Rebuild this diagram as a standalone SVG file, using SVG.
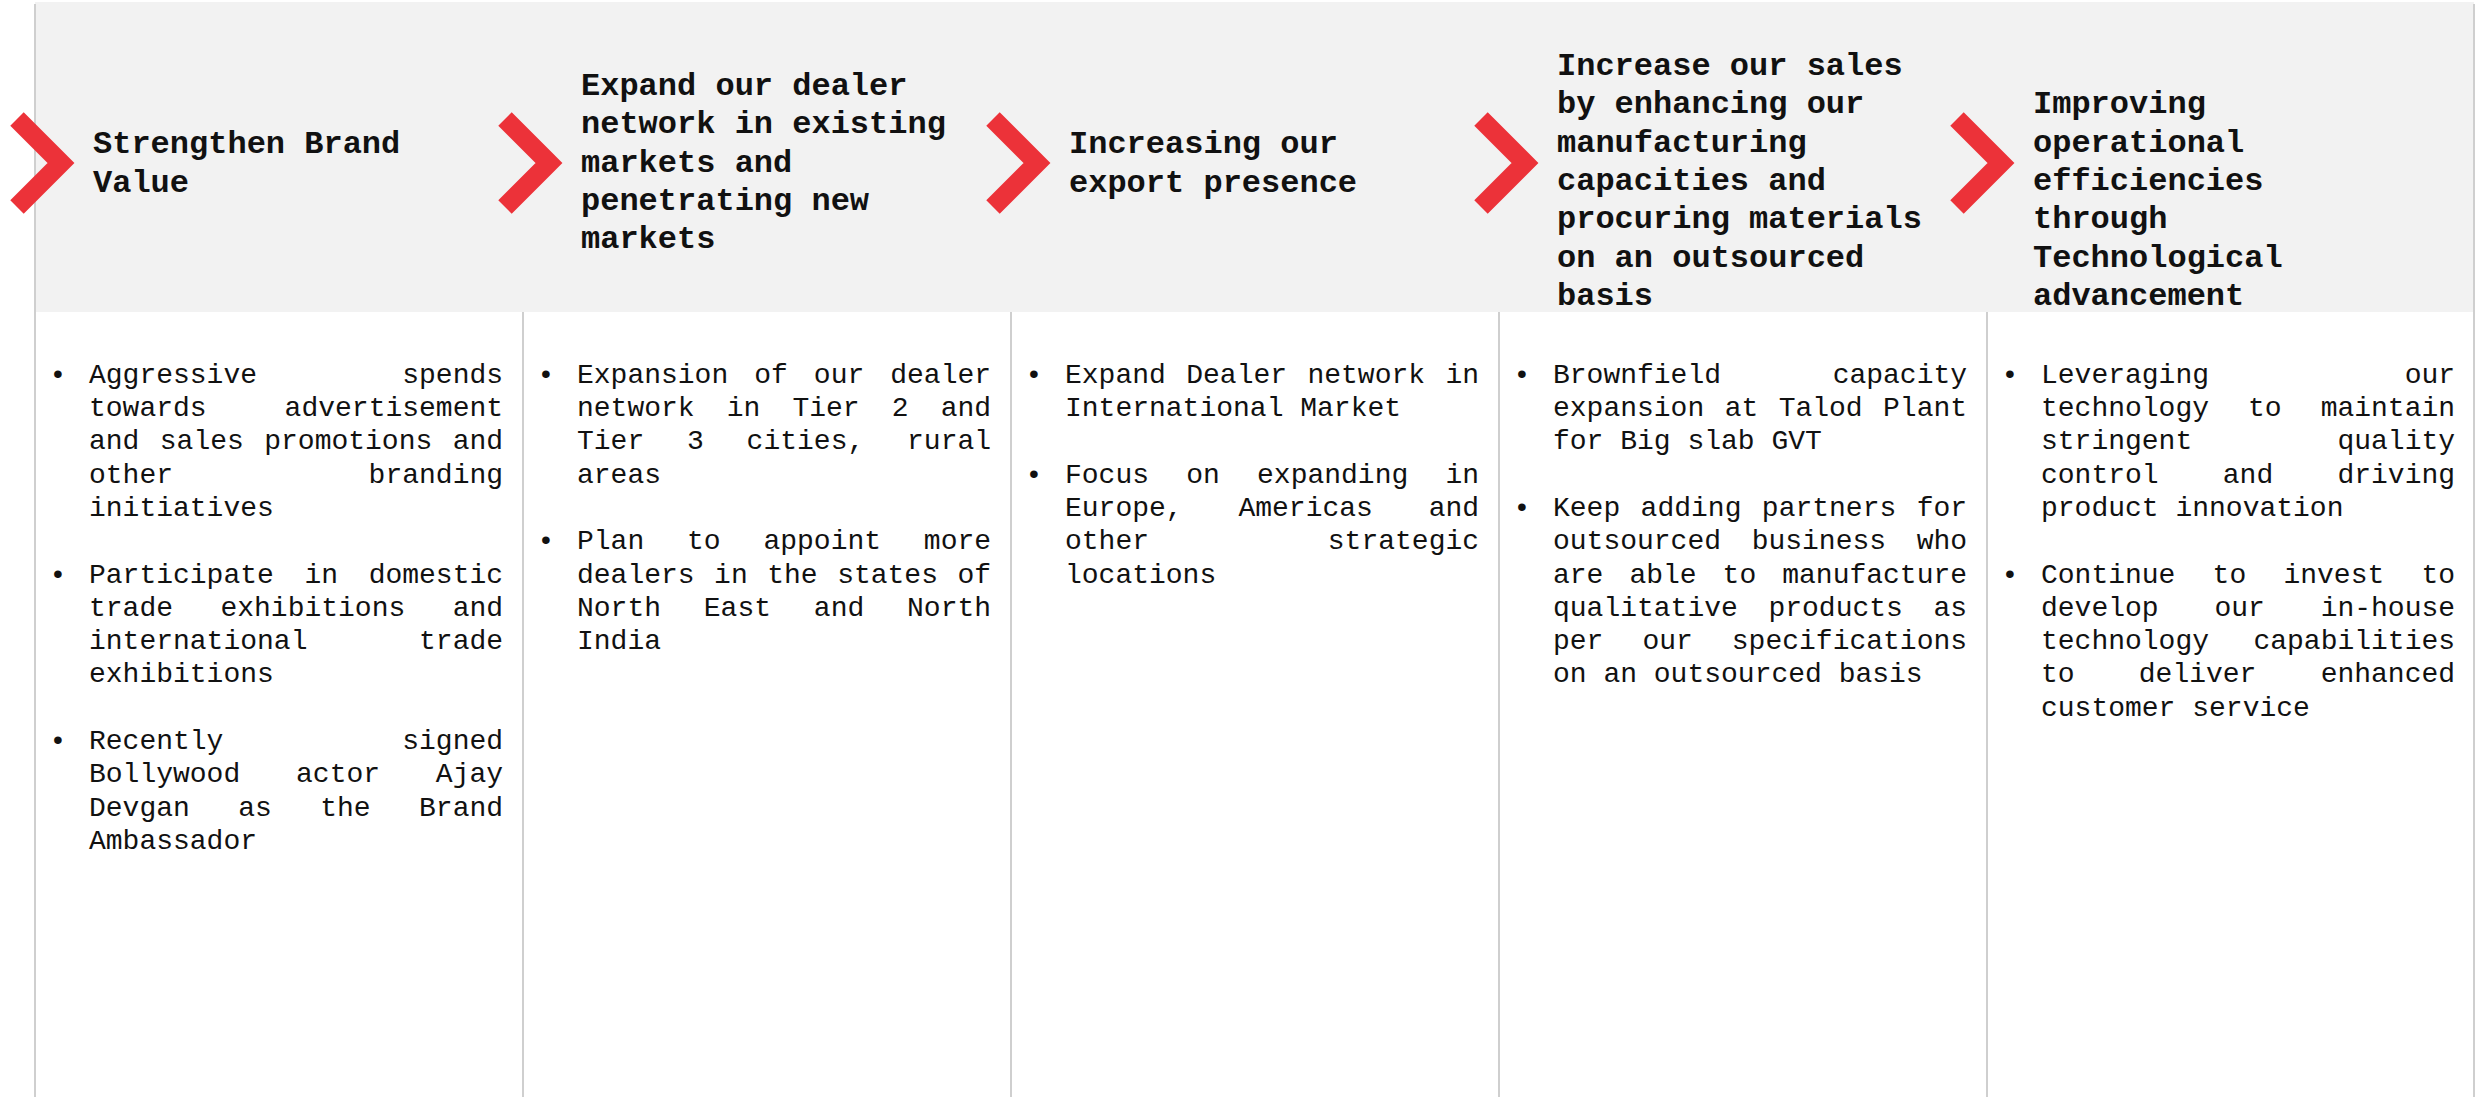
<svg xmlns="http://www.w3.org/2000/svg" width="2478" height="1097" viewBox="0 0 2478 1097">
<style>
.hd{font-family:"Liberation Mono","Courier New",monospace;font-weight:bold;font-size:32px;fill:#111}
.bd{font-family:"Liberation Mono","Courier New",monospace;font-size:28px;fill:#111}
.bl{font-family:"Liberation Mono","Courier New",monospace;font-size:28px;fill:#111;text-anchor:middle}
.chev{fill:none;stroke:#EC3239;stroke-width:19;stroke-linejoin:miter;stroke-linecap:butt}
.sep{stroke:#CFCFCF;stroke-width:2;fill:none}
</style>
<rect x="0" y="0" width="2478" height="1097" fill="#FFFFFF"/>
<rect x="35" y="2" width="2439" height="310" fill="#F2F2F2"/>
<g id="grid">
<line class="sep" x1="35" y1="4" x2="35" y2="1097"/>
<line class="sep" x1="2474" y1="4" x2="2474" y2="1097"/>
<line class="sep" x1="523" y1="312" x2="523" y2="1097"/>
<line class="sep" x1="1011" y1="312" x2="1011" y2="1097"/>
<line class="sep" x1="1499" y1="312" x2="1499" y2="1097"/>
<line class="sep" x1="1987" y1="312" x2="1987" y2="1097"/>
</g>
<g id="connectors"></g>

<g id="col1">
<polyline class="chev" points="17,119 61,163 17,207"/>
<text class="hd" x="93" y="153.3">Strengthen Brand</text>
<text class="hd" x="93" y="191.7">Value</text>
<text class="bl" x="58" y="382.7">•</text>
<text class="bd" x="89" y="382.7" word-spacing="128.4">Aggressive spends</text>
<text class="bd" x="89" y="416" word-spacing="61.2">towards advertisement</text>
<text class="bd" x="89" y="449.3" word-spacing="3.6">and sales promotions and</text>
<text class="bd" x="89" y="482.6" word-spacing="178.8">other branding</text>
<text class="bd" x="89" y="515.9">initiatives</text>
<text class="bl" x="58" y="582.5">•</text>
<text class="bd" x="89" y="582.5" word-spacing="13.8">Participate in domestic</text>
<text class="bd" x="89" y="615.8" word-spacing="30.6">trade exhibitions and</text>
<text class="bd" x="89" y="649.1" word-spacing="94.8">international trade</text>
<text class="bd" x="89" y="682.4">exhibitions</text>
<text class="bl" x="58" y="749">•</text>
<text class="bd" x="89" y="749" word-spacing="162">Recently signed</text>
<text class="bd" x="89" y="782.3" word-spacing="39">Bollywood actor Ajay</text>
<text class="bd" x="89" y="815.6" word-spacing="31.6">Devgan as the Brand</text>
<text class="bd" x="89" y="848.9">Ambassador</text>
</g>

<g id="col2">
<polyline class="chev" points="505,119 549,163 505,207"/>
<text class="hd" x="581" y="95">Expand our dealer</text>
<text class="hd" x="581" y="133.3">network in existing</text>
<text class="hd" x="581" y="171.7">markets and</text>
<text class="hd" x="581" y="210">penetrating new</text>
<text class="hd" x="581" y="248.3">markets</text>
<text class="bl" x="546" y="382.7">•</text>
<text class="bd" x="577" y="382.7" word-spacing="9.2">Expansion of our dealer</text>
<text class="bd" x="577" y="416" word-spacing="15.3">network in Tier 2 and</text>
<text class="bd" x="577" y="449.3" word-spacing="26">Tier 3 cities, rural</text>
<text class="bd" x="577" y="482.6">areas</text>
<text class="bl" x="546" y="549.2">•</text>
<text class="bd" x="577" y="549.2" word-spacing="26">Plan to appoint more</text>
<text class="bd" x="577" y="582.5" word-spacing="2.7">dealers in the states of</text>
<text class="bd" x="577" y="615.8" word-spacing="26">North East and North</text>
<text class="bd" x="577" y="649.1">India</text>
</g>

<g id="col3">
<polyline class="chev" points="993,119 1037,163 993,207"/>
<text class="hd" x="1069" y="153.3">Increasing our</text>
<text class="hd" x="1069" y="191.7">export presence</text>
<text class="bl" x="1034" y="382.7">•</text>
<text class="bd" x="1065" y="382.7" word-spacing="3.6">Expand Dealer network in</text>
<text class="bd" x="1065" y="416">International Market</text>
<text class="bl" x="1034" y="482.6">•</text>
<text class="bd" x="1065" y="482.6" word-spacing="20.4">Focus on expanding in</text>
<text class="bd" x="1065" y="515.9" word-spacing="39">Europe, Americas and</text>
<text class="bd" x="1065" y="549.2" word-spacing="162">other strategic</text>
<text class="bd" x="1065" y="582.5">locations</text>
</g>

<g id="col4">
<polyline class="chev" points="1481,119 1525,163 1481,207"/>
<text class="hd" x="1557" y="75">Increase our sales</text>
<text class="hd" x="1557" y="113.3">by enhancing our</text>
<text class="hd" x="1557" y="151.7">manufacturing</text>
<text class="hd" x="1557" y="190">capacities and</text>
<text class="hd" x="1557" y="228.3">procuring materials</text>
<text class="hd" x="1557" y="266.7">on an outsourced</text>
<text class="hd" x="1557" y="305">basis</text>
<text class="bl" x="1522" y="382.7">•</text>
<text class="bd" x="1553" y="382.7" word-spacing="94.8">Brownfield capacity</text>
<text class="bd" x="1553" y="416" word-spacing="3.6">expansion at Talod Plant</text>
<text class="bd" x="1553" y="449.3">for Big slab GVT</text>
<text class="bl" x="1522" y="515.9">•</text>
<text class="bd" x="1553" y="515.9" word-spacing="3.6">Keep adding partners for</text>
<text class="bd" x="1553" y="549.2" word-spacing="13.8">outsourced business who</text>
<text class="bd" x="1553" y="582.5" word-spacing="9.2">are able to manufacture</text>
<text class="bd" x="1553" y="615.8" word-spacing="13.8">qualitative products as</text>
<text class="bd" x="1553" y="649.1" word-spacing="22.2">per our specifications</text>
<text class="bd" x="1553" y="682.4">on an outsourced basis</text>
</g>

<g id="col5">
<polyline class="chev" points="1957,119 2001,163 1957,207"/>
<text class="hd" x="2033" y="113.3">Improving</text>
<text class="hd" x="2033" y="151.7">operational</text>
<text class="hd" x="2033" y="190">efficiencies</text>
<text class="hd" x="2033" y="228.3">through</text>
<text class="hd" x="2033" y="266.7">Technological</text>
<text class="hd" x="2033" y="305">advancement</text>
<text class="bl" x="2010" y="382.7">•</text>
<text class="bd" x="2041" y="382.7" word-spacing="178.8">Leveraging our</text>
<text class="bd" x="2041" y="416" word-spacing="22.2">technology to maintain</text>
<text class="bd" x="2041" y="449.3" word-spacing="128.4">stringent quality</text>
<text class="bd" x="2041" y="482.6" word-spacing="47.4">control and driving</text>
<text class="bd" x="2041" y="515.9">product innovation</text>
<text class="bl" x="2010" y="582.5">•</text>
<text class="bd" x="2041" y="582.5" word-spacing="20.4">Continue to invest to</text>
<text class="bd" x="2041" y="615.8" word-spacing="39">develop our in-house</text>
<text class="bd" x="2041" y="649.1" word-spacing="27.6">technology capabilities</text>
<text class="bd" x="2041" y="682.4" word-spacing="47.4">to deliver enhanced</text>
<text class="bd" x="2041" y="715.7">customer service</text>
</g>
</svg>
